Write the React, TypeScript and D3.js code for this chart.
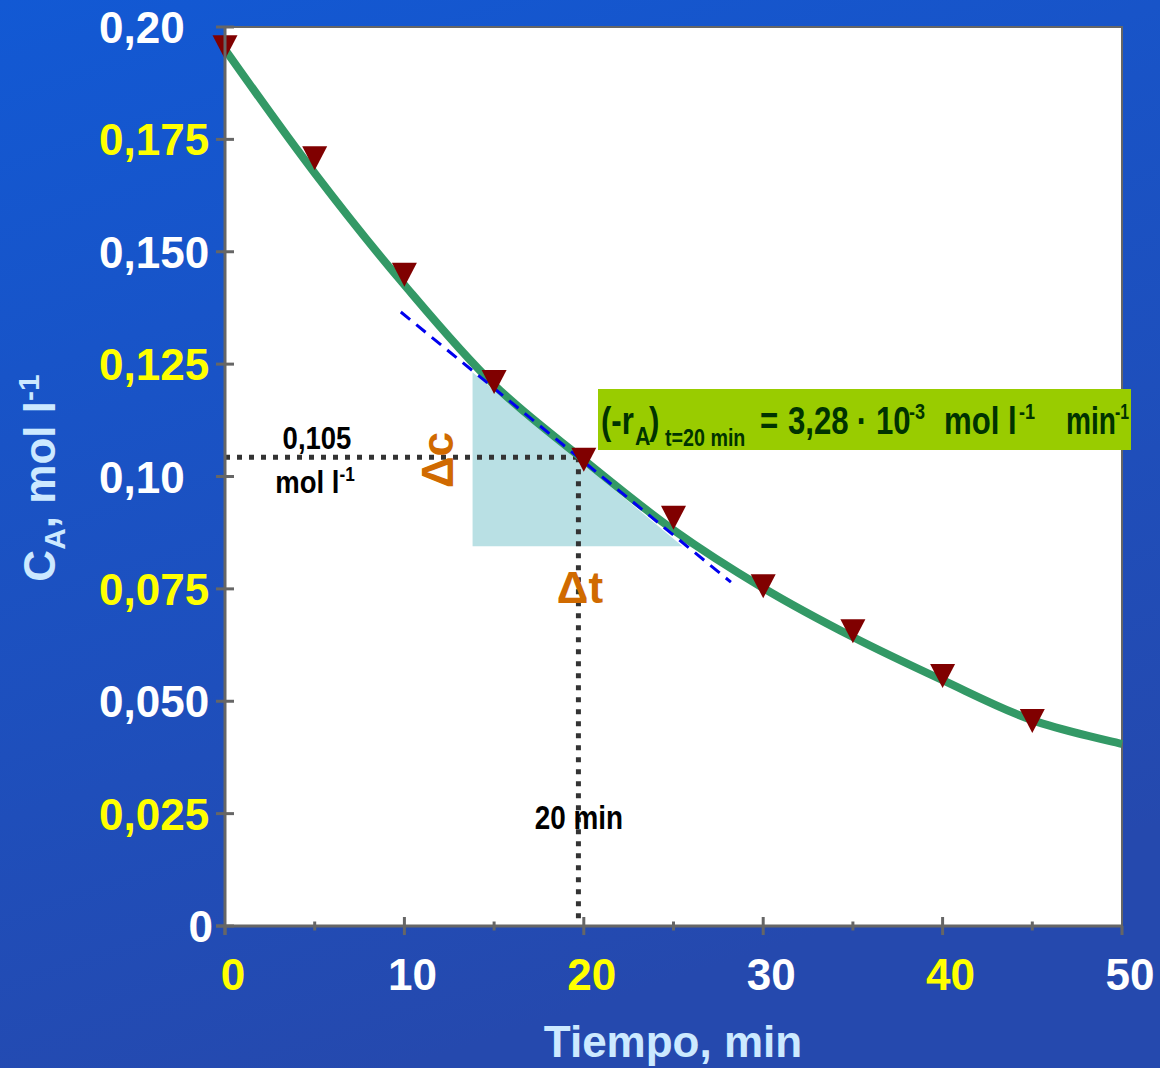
import React from "react";
import * as d3 from "d3";

const W = 1160;
const H = 1068;

// measured data points (markers)
const pointTimes = [0, 5, 10, 15, 20, 25, 30, 35, 40, 45];
const pointConc = [0.1955, 0.1708, 0.1449, 0.121, 0.1037, 0.0908, 0.0756, 0.0656, 0.0556, 0.0456];

// fitted curve
const curveTimes = [0, 5, 10, 15, 20, 25, 30, 35, 40, 45, 50];
const curveConc = [0.195, 0.1675, 0.1426, 0.1204, 0.1037, 0.0881, 0.0752, 0.0643, 0.0547, 0.0458, 0.0405];

// tangent at t = 20
const tangentT = [9.8, 28.2];
const tangentC = [0.1366, 0.0765];

// shaded triangle (Δt, Δc)
const triT = [13.8, 13.8, 25.5];
const triC = [0.1232, 0.0845, 0.0845];

const yTickValues = [0, 0.025, 0.05, 0.075, 0.1, 0.125, 0.15, 0.175, 0.2];
const yTickLabels = ["0", "0,025", "0,050", "0,075", "0,10", "0,125", "0,150", "0,175", "0,20"];
const yTickColors = ["#ffffff", "#ffff00", "#ffffff", "#ffff00", "#ffffff", "#ffff00", "#ffffff", "#ffff00", "#ffffff"];

const xTickValues = [0, 10, 20, 30, 40, 50];
const xTickLabels = ["0", "10", "20", "30", "40", "50"];
const xTickColors = ["#ffff00", "#ffffff", "#ffff00", "#ffffff", "#ffff00", "#ffffff"];
const xMinorTicks = [5, 15, 25, 35, 45];

const refT = 19.7;
const refC = 0.1043;

const BOLD = "'Liberation Sans', Arial, sans-serif";

function NText(props: {
  x: number;
  y: number;
  size: number;
  fill: string;
  anchor?: string;
  sx?: number;
  children: React.ReactNode;
}) {
  const sx = props.sx ?? 0.82;
  return (
    <g transform={`translate(${props.x},${props.y}) scale(${sx},1)`}>
      <text
        x={0}
        y={0}
        textAnchor={props.anchor || "start"}
        fontFamily={BOLD}
        fontWeight="bold"
        fontSize={props.size}
        fill={props.fill}
      >
        {props.children}
      </text>
    </g>
  );
}

export default function App() {
  const x = d3.scaleLinear().domain([0, 50]).range([225, 1122]);
  const y = d3.scaleLinear().domain([0, 0.2]).range([926, 27]);

  const curveLine = d3
    .line<number>()
    .x((_, i) => x(curveTimes[i]))
    .y((d) => y(d))
    .curve(d3.curveCatmullRom);

  const triPath =
    "M" + triT.map((t, i) => `${x(t)},${y(triC[i])}`).join("L") + "Z";

  const axisGray = "#666666";
  const boxText = "#003300";

  return (
    <svg width={W} height={H} style={{ position: "absolute", left: 0, top: 0 }}>
      <defs>
        <linearGradient id="bg" x1="0" y1="0" x2="0.35" y2="1">
          <stop offset="0" stopColor="#1259d4" />
          <stop offset="1" stopColor="#2549ae" />
        </linearGradient>
      </defs>
      <rect x={0} y={0} width={W} height={H} fill="url(#bg)" />

      {/* plot area */}
      <rect x={x(0)} y={y(0.2)} width={x(50) - x(0)} height={y(0) - y(0.2)} fill="#ffffff" stroke={axisGray} strokeWidth={2} />

      {/* shaded triangle */}
      <path d={triPath} fill="#b9e0e4" />

      {/* dotted reference lines */}
      <line x1={x(0)} x2={x(refT)} y1={y(refC)} y2={y(refC)} stroke="#333333" strokeWidth={5} strokeDasharray="5,7" />
      <line x1={x(refT)} x2={x(refT)} y1={y(refC)} y2={y(0)} stroke="#333333" strokeWidth={5} strokeDasharray="5,7" />

      {/* fitted curve */}
      <path d={curveLine(curveConc) || ""} fill="none" stroke="#339966" strokeWidth={8} />

      {/* tangent */}
      <line x1={x(tangentT[0])} y1={y(tangentC[0])} x2={x(tangentT[1])} y2={y(tangentC[1])} stroke="#0000ee" strokeWidth={3} strokeDasharray="12,8" />

      {/* markers */}
      {pointTimes.map((t, i) => {
        const cx = x(t);
        const cy = y(pointConc[i]);
        return (
          <path key={i} d={`M${cx - 12.5},${cy - 12}L${cx + 12.5},${cy - 12}L${cx},${cy + 12}Z`} fill="#800000" />
        );
      })}

      {/* axes */}
      <line x1={x(0)} x2={x(0)} y1={y(0.2)} y2={y(0) + 9} stroke={axisGray} strokeWidth={3} />
      <line x1={x(0) - 9} x2={x(50)} y1={y(0)} y2={y(0)} stroke={axisGray} strokeWidth={3} />
      {yTickValues.map((v, i) => (
        <line key={"yt" + i} x1={x(0) - 9} x2={x(0) + 9} y1={y(v)} y2={y(v)} stroke={axisGray} strokeWidth={3} />
      ))}
      {xTickValues.map((v, i) => (
        <line key={"xt" + i} x1={x(v)} x2={x(v)} y1={v === 0 || v === 50 ? y(0) : y(0) - 9} y2={y(0) + 9} stroke={axisGray} strokeWidth={3} />
      ))}
      {xMinorTicks.map((v, i) => (
        <line key={"xm" + i} x1={x(v)} x2={x(v)} y1={y(0) - 4.5} y2={y(0) + 4.5} stroke={axisGray} strokeWidth={3} />
      ))}

      {/* tick labels */}
      {yTickValues.map((v, i) => (
        <text
          key={"yl" + i}
          x={v === 0 ? 213 : 99}
          y={y(v) + 16}
          textAnchor={v === 0 ? "end" : "start"}
          fontFamily={BOLD}
          fontWeight="bold"
          fontSize={44}
          fill={yTickColors[i]}
        >
          {yTickLabels[i]}
        </text>
      ))}
      {xTickValues.map((v, i) => (
        <text key={"xl" + i} x={x(v) + 8} y={990} textAnchor="middle" fontFamily={BOLD} fontWeight="bold" fontSize={44} fill={xTickColors[i]}>
          {xTickLabels[i]}
        </text>
      ))}

      {/* axis titles */}
      <text x={673} y={1057} textAnchor="middle" fontFamily={BOLD} fontWeight="bold" fontSize={44} fill="#cce9ff">
        Tiempo, min
      </text>
      <text transform="translate(55,478) rotate(-90)" textAnchor="middle" fontFamily={BOLD} fontWeight="bold" fontSize={44} fill="#cce9ff">
        C<tspan fontSize={30} dy={10}>A</tspan>
        <tspan dy={-10}>, mol l</tspan>
        <tspan fontSize={30} dy={-16}>-1</tspan>
      </text>

      {/* annotations */}
      <NText x={317} y={449} size={32} sx={0.86} fill="#000000" anchor="middle">0,105</NText>
      <NText x={315} y={493} size={32} sx={0.86} fill="#000000" anchor="middle">
        mol l<tspan fontSize={20} dy={-12}>-1</tspan>
      </NText>
      <NText x={579} y={829} size={34} fill="#000000" anchor="middle">20 min</NText>

      <text transform="translate(453,460) rotate(-90)" textAnchor="middle" fontFamily={BOLD} fontWeight="bold" fontSize={44} fill="#d06a00">
        Δc
      </text>
      <text x={580} y={603} textAnchor="middle" fontFamily={BOLD} fontWeight="bold" fontSize={44} fill="#d06a00">
        Δt
      </text>

      {/* green box */}
      <rect x={598} y={389} width={533} height={61} fill="#99cc00" />
      <NText x={601} y={434} size={38} fill={boxText}>(-r</NText>
      <NText x={635} y={445} size={26} fill={boxText}>A</NText>
      <NText x={649} y={434} size={38} fill={boxText}>)</NText>
      <NText x={665} y={446} size={24} fill={boxText}>t=20 min</NText>
      <NText x={760} y={434} size={38} fill={boxText}>=</NText>
      <NText x={788} y={434} size={38} fill={boxText}>3,28</NText>
      <NText x={862} y={434} size={38} fill={boxText} anchor="middle">·</NText>
      <NText x={876} y={434} size={38} fill={boxText}>10</NText>
      <NText x={909} y={419} size={22} fill={boxText}>-3</NText>
      <NText x={944} y={434} size={38} fill={boxText}>mol l</NText>
      <NText x={1019} y={419} size={22} fill={boxText}>-1</NText>
      <NText x={1066} y={434} size={38} sx={0.74} fill={boxText}>min</NText>
      <NText x={1115} y={419} size={22} sx={0.72} fill={boxText}>-1</NText>
    </svg>
  );
}
